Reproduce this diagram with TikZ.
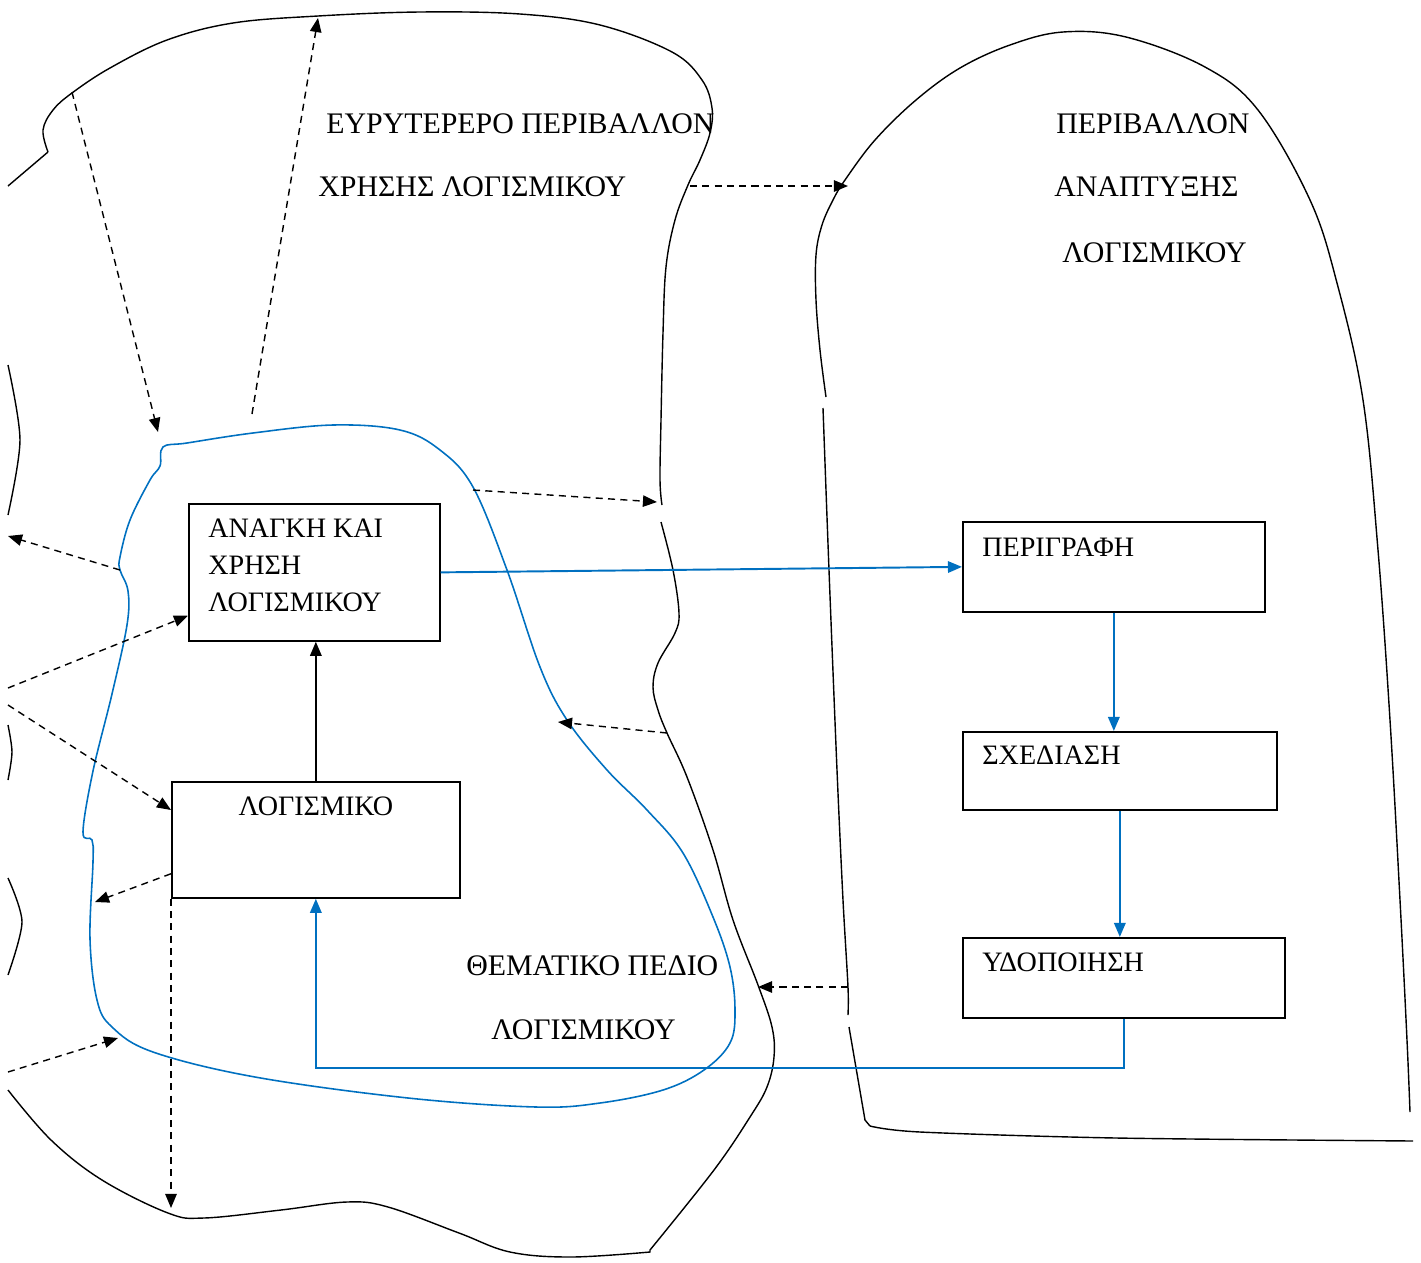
\documentclass[tikz,border=0pt]{standalone}
\usepackage{fontspec}
\setmainfont{Liberation Serif}
\usepackage{xcolor}
\usetikzlibrary{arrows.meta,positioning}
\definecolor{wordBlue}{HTML}{0070C0}

\begin{document}
\begin{tikzpicture}[x=0.02cm, y=-0.02cm,
  font=\fontsize{16}{21}\selectfont,
  box/.style={draw, line width=1pt, anchor=north west, inner sep=0pt},
  txt/.style={inner sep=0pt, align=left},
  lbl/.style={inner sep=0pt, anchor=west, font=\fontsize{17}{21}\selectfont},
  env/.style={line width=0.8pt},
  dsh/.style={line width=0.8pt, dash pattern=on 4pt off 3pt, -{Triangle[length=8pt,width=6.5pt]}},
  flow/.style={wordBlue, line width=1.1pt, -{Triangle[length=8pt,width=6.5pt]}}]
\useasboundingbox (0,0) rectangle (1421,1262);

% wider environment of use
\draw[env] (8,186) -- (48,152) plot[smooth, tension=0.6] coordinates {(48,152) (43,130) (53,110) (72,93) (110,68) (167,40) (233,23) (318,16) (420,12) (520,14) (600,25) (672,52) (702,80) (712,108) (710,133) (700,160) (688,185) (675,220) (666,267) (663,333) (661,420) (660,480) (662,505)};
\draw[env] plot[smooth, tension=0.6] coordinates {(661,522) (673,570) (679,613) (675,633) (658,663) (653,687) (658,710) (667,733) (687,777) (713,850) (733,920) (758,985) (772,1027) (774,1057) (767,1087) (750,1117) (714,1170) (650,1250)}
  -- plot[smooth, tension=0.6] coordinates {(650,1252) (571,1257) (510,1252) (459,1233) (388,1207) (347,1202) (281,1210) (204,1218) (168,1213) (102,1180) (51,1140) (8,1090)};
\draw[env] plot[smooth] coordinates {(8,365) (20,440) (8,515)};
\draw[env] plot[smooth] coordinates {(8,725) (12,752) (8,780)};
\draw[env] plot[smooth] coordinates {(8,878) (22,922) (8,975)};

% development environment
\draw[env] plot[smooth, tension=0.6] coordinates {(826,397) (820,350) (816,300) (816,255) (822,225) (833,200) (845,180) (875,140) (916,100) (960,68) (1010,45) (1063,32) (1126,37) (1205,67) (1258,110) (1310,200) (1337,283) (1363,400) (1378,550) (1390,720) (1400,900) (1407,1040) (1410,1112)};
\draw[env] plot[smooth] coordinates {(823,408) (829,570) (837,770) (843,900) (848,987) (848,1015)};
\draw[env] (849,1027) -- (865,1120) -- (870,1126) plot[smooth] coordinates {(870,1126) (920,1132) (1116,1138) (1413,1141)};

% subject domain
\draw[wordBlue, line width=0.9pt] plot[smooth cycle, tension=0.6] coordinates {(163,447) (187,443) (253,433) (333,425) (400,430) (440,450) (473,487) (507,570) (540,667) (567,720) (607,770) (647,810) (683,853) (713,917) (730,967) (735,1010) (730,1043) (704,1070) (663,1090) (600,1103) (536,1107) (408,1098) (255,1077) (153,1052) (112,1027) (97,1000) (90,939) (93,862) (92,840) (83,832) (93,771) (112,694) (127,625) (128,591) (120,570) (120,557) (130,520) (150,480) (160,466)};

% boxes
\node[box, minimum width=5.02cm, minimum height=2.74cm] (need) at (188,503) {};
\node[txt, anchor=north west, xshift=0.4cm, yshift=-0.32cm] at (need.north west) {ΑΝΑΓΚΗ ΚΑΙ\\ΧΡΗΣΗ\\ΛΟΓΙΣΜΙΚΟΥ};
\node[box, minimum width=5.76cm, minimum height=2.32cm] (soft) at (171,781) {};
\node[txt, anchor=north, yshift=-0.32cm] at (soft.north) {ΛΟΓΙΣΜΙΚΟ};
\node[box, minimum width=6.04cm, minimum height=1.8cm] (descr) at (962,521) {};
\node[txt, anchor=north west, xshift=0.4cm, yshift=-0.34cm] at (descr.north west) {ΠΕΡΙΓΡΑΦΗ};
\node[box, minimum width=6.28cm, minimum height=1.56cm] (design) at (962,731) {};
\node[txt, anchor=north west, xshift=0.4cm, yshift=-0.3cm] at (design.north west) {ΣΧΕΔΙΑΣΗ};
\node[box, minimum width=6.44cm, minimum height=1.6cm] (impl) at (962,937) {};
\node[txt, anchor=north west, xshift=0.4cm, yshift=-0.32cm] at (impl.north west) {ΥΔΟΠΟΙΗΣΗ};

% labels
\node[lbl] (useA) at (326,124) {ΕΥΡΥΤΕΡΕΡΟ ΠΕΡΙΒΑΛΛΟΝ};
\node[lbl] (useB) at (318,187) {ΧΡΗΣΗΣ ΛΟΓΙΣΜΙΚΟΥ};
\node[lbl] (devA) at (1056,124) {ΠΕΡΙΒΑΛΛΟΝ};
\node[lbl] (devB) at (1054,187) {ΑΝΑΠΤΥΞΗΣ};
\node[lbl] (devC) at (1062,253) {ΛΟΓΙΣΜΙΚΟΥ};
\node[lbl] (domA) at (466,966) {ΘΕΜΑΤΙΚΟ ΠΕΔΙΟ};
\node[lbl] (domB) at (491,1030) {ΛΟΓΙΣΜΙΚΟΥ};

% development flow
\draw[flow] (need.east) -- (descr.west);
\draw[flow] (descr.south) -- (descr.south |- design.north);
\draw[flow] (design.south) -- (design.south |- impl.north);
\draw[flow] (impl.south) -- ++(0,49) -| (soft.south);
\draw[line width=1pt, -{Triangle[length=8pt,width=6.5pt]}] (soft.north) -- (soft.north |- need.south);

% interactions
\coordinate (u1) at (72,92);
\coordinate (t1) at (158,432);
\coordinate (u2) at (252,414);
\coordinate (u3) at (318,18);
\coordinate (t2) at (473,490);
\coordinate (u4) at (657,502);
\coordinate (u5) at (690,186);
\coordinate (d1) at (848,186);
\coordinate (u6) at (667,733);
\coordinate (t3) at (558,722);
\coordinate (d2) at (848,987);
\coordinate (u7) at (758,987);
\coordinate (t4) at (120,570);
\coordinate (w1) at (8,536);
\coordinate (w2) at (8,688);
\coordinate (w3) at (8,705);
\coordinate (t5) at (95,902);
\coordinate (u8) at (171,1208);
\coordinate (w4) at (8,1072);
\coordinate (t6) at (118,1038);
\coordinate (n1) at ([yshift=0.52cm]need.south west);
\coordinate (s1) at ([yshift=-0.58cm]soft.north west);
\coordinate (s2) at ([yshift=0.5cm]soft.south west);

\draw[dsh] (u1) -- (t1);
\draw[dsh] (u2) -- (u3);
\draw[dsh] (t2) -- (u4);
\draw[dsh] (u5) -- (d1);
\draw[dsh] (u6) -- (t3);
\draw[dsh] (d2) -- (u7);
\draw[dsh] (t4) -- (w1);
\draw[dsh] (w2) -- (n1);
\draw[dsh] (w3) -- (s1);
\draw[dsh] (s2) -- (t5);
\draw[dsh] (soft.south west) -- (u8);
\draw[dsh] (w4) -- (t6);
\end{tikzpicture}
\end{document}
